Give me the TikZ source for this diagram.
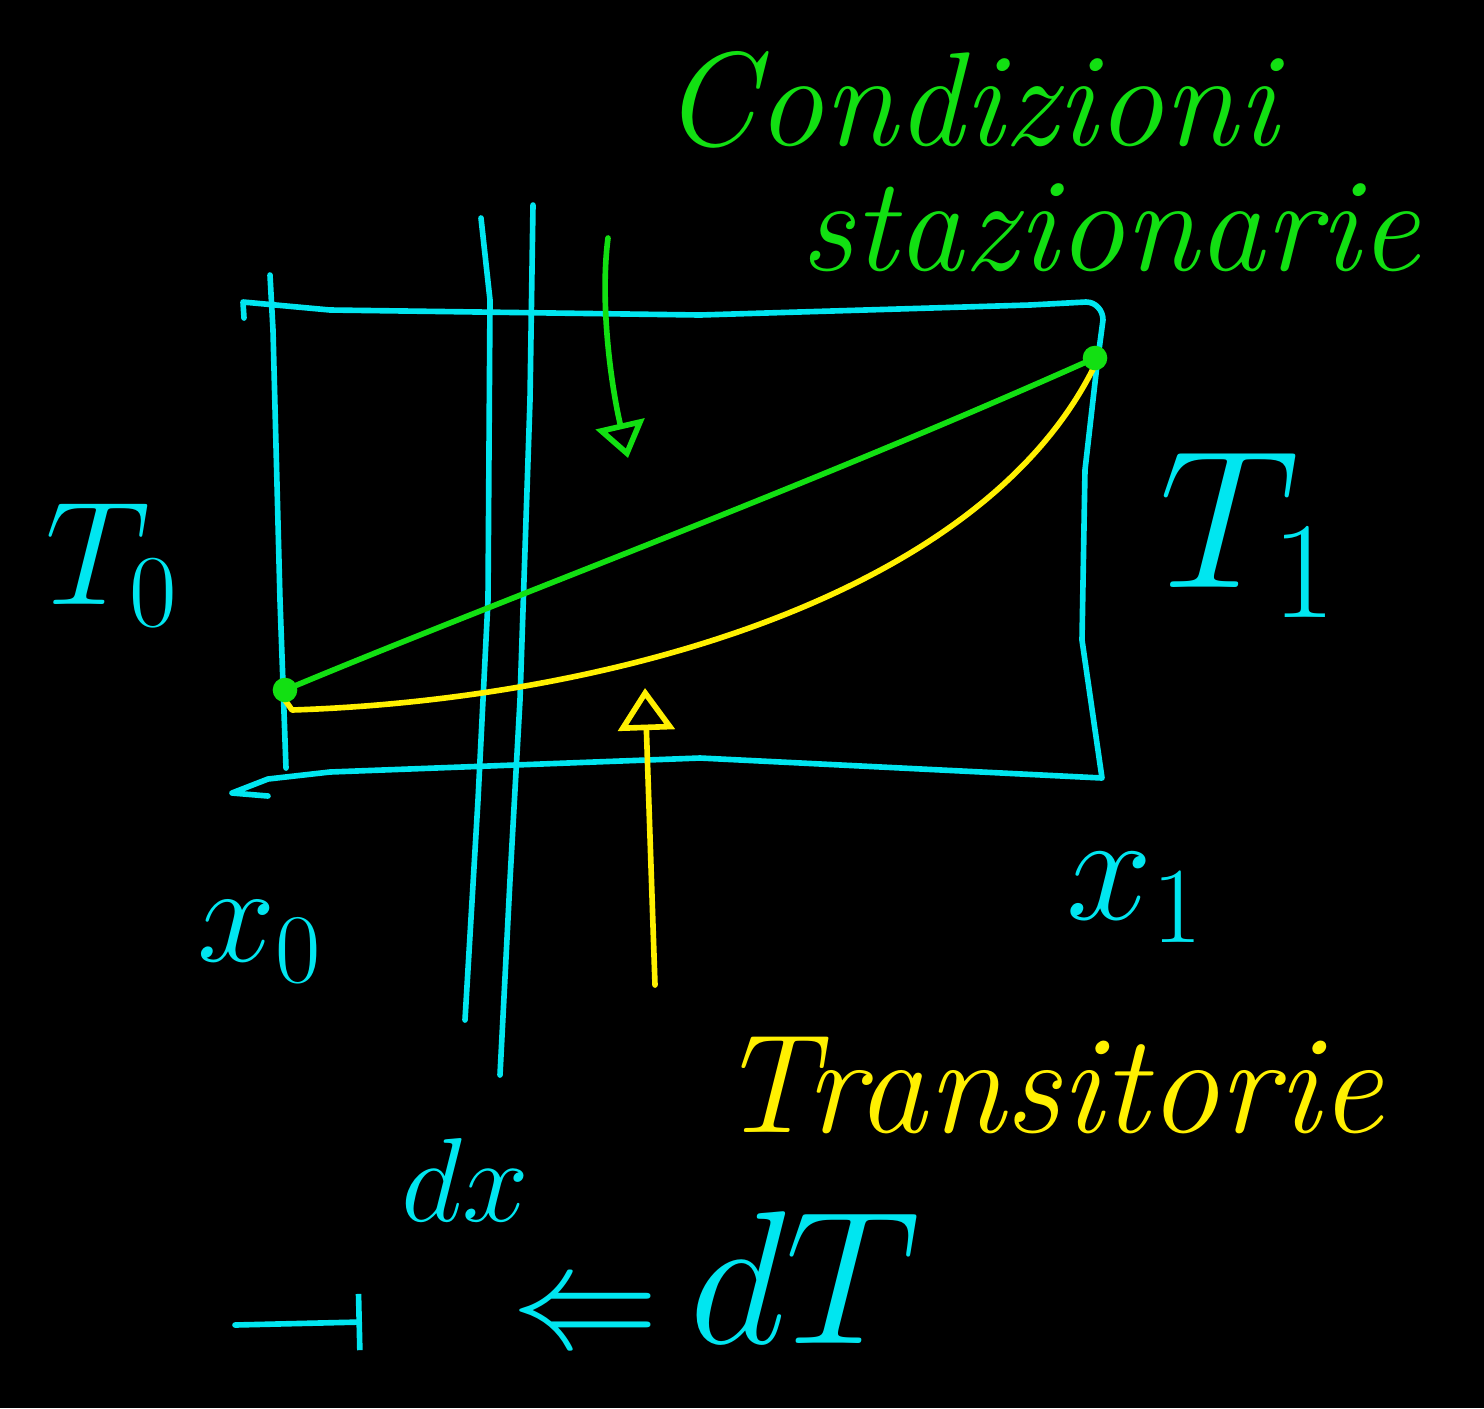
\RequirePackage{fix-cm}
\documentclass[tikz,border=0pt]{standalone}
\usepackage{amsmath}
\usepackage{tikz}
\usetikzlibrary{arrows.meta,positioning,calc}
\definecolor{bg}{HTML}{000000}
\definecolor{pencyan}{HTML}{00E6F0}
\definecolor{pengreen}{HTML}{12E012}
\definecolor{penyellow}{HTML}{FFF000}

\begin{document}
\begin{tikzpicture}[x=0.01cm, y=-0.01cm,
    pen/.style={line width=1.6pt, line cap=round, line join=round},
    cpen/.style={pen, draw=pencyan},
    gpen/.style={pen, draw=pengreen},
    ypen/.style={pen, draw=penyellow},
    clbl/.style={text=pencyan, inner sep=0pt},
    note/.style={inner sep=0pt, font=\fontsize{38}{42}\selectfont\itshape},
]
\fill[bg] (0,0) rectangle (1484,1408);
\useasboundingbox (0,0) rectangle (1484,1408);

% the bar, walls at x0 and x1
\draw[cpen] (244,318) -- (243,302) -- (330,310) -- (700,315) -- (1030,305) -- (1086,302)
    to[out=0,in=90] (1103,320) -- (1097,365) -- (1085,470) -- (1082,640) -- (1102,778)
    -- (700,758) -- (330,772) -- (268,779) -- (232,793) -- (268,796);
\draw[cpen] (270,275) -- (273,330) -- (280,600) -- (286,768);

% slice dx
\draw[cpen] (481,218) -- (490,300) -- (488,600) -- (478,800) -- (465,1020);
\draw[cpen] (533,205) -- (530,400) -- (520,700) -- (510,880) -- (500,1075);

% temperature profiles
\coordinate (a0) at (285,690);
\coordinate (a1) at (1095,358);
\draw[gpen] (a0) .. controls (500,600) and (800,490) .. (a1);
\draw[ypen] (285,700) -- (292,710) .. controls (600,700) and (980,600) .. (1095,365);
\fill[pengreen] (a0) circle (3.5pt);
\fill[pengreen] (a1) circle (3.5pt);

% labels
\node[clbl, font=\fontsize{42}{46}\selectfont] (t0) at (112,565) {$T_0$};
\node[clbl, font=\fontsize{56}{60}\selectfont] (t1) at (1248,535) {$T_1$};
\node[clbl, font=\fontsize{40}{44}\selectfont] (x0) at (260,942) {$x_0$};
\node[clbl, font=\fontsize{44}{48}\selectfont] (x1) at (1135,898) {$x_1$};
\node[clbl, font=\fontsize{34}{38}\selectfont] (dx) at (465,1180) {$dx$};
\node[clbl, font=\fontsize{54}{58}\selectfont] (dT) at (805,1278) {$dT$};

% heat flow
\coordinate (qa) at (235,1325);
\coordinate (qb) at (362,1322);
\draw[cpen, -{Bar[width=16pt]}] (qa) -- (qb);
\node[clbl, font=\fontsize{42}{46}\selectfont] (flux) at (585,1320) {$\Leftarrow$};

% steady state
\node[note, text=pengreen] (cond) at (970,100) {Condizioni};
\node[note, text=pengreen] (staz) at (1110,228) {stazionarie};
\coordinate (gtail) at (608,238);
\coordinate (ghead) at (628,458);
\draw[gpen, -{Triangle[open, length=10pt, width=14pt]}] (gtail) .. controls (600,300) and (610,380) .. (ghead);

% transient
\node[note, text=penyellow, font=\fontsize{40}{44}\selectfont\itshape] (trans) at (1050,1085) {Transitorie};
\coordinate (ytail) at (655,985);
\coordinate (yhead) at (645,688);
\draw[ypen, -{Triangle[open, length=12pt, width=16pt]}] (ytail) -- (yhead);

\end{tikzpicture}
\end{document}
